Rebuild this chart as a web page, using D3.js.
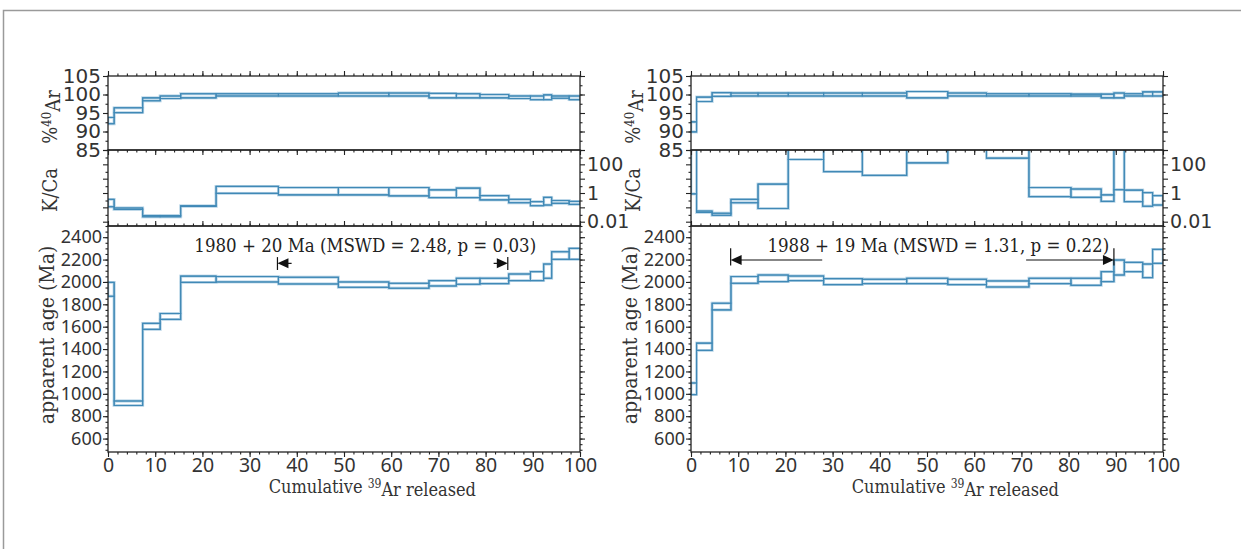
<!DOCTYPE html>
<html>
<head>
<meta charset="utf-8">
<script src="https://cdn.jsdelivr.net/npm/d3@7/dist/d3.min.js"></script>
<style>
body { margin: 0; background: #fff; }
svg { display: block; }
</style>
</head>
<body>
<svg id="chart" width="1241" height="549"></svg>
<script>
// left sample: step boundaries (cumulative % 39Ar) and the values of each step
var stepsL = [0, 1.3, 7.35, 11.05, 15.4, 22.9, 36.1, 48.8, 59.5, 68.0, 73.8, 78.8, 84.9, 89.5, 92.3, 94.0, 97.7, 100];
var ageLoL = [1872, 896, 1576, 1665, 1996, 2000, 1982, 1952, 1944, 1964, 1979, 1985, 2012, 2012, 2033, 2202, 2202];
var ageHiL = [1996, 936, 1630, 1718, 2052, 2048, 2042, 2000, 1988, 2012, 2033, 2033, 2071, 2092, 2160, 2270, 2300];
var arLoL  = [92.1, 95.1, 98.3, 98.9, 99.1, 99.6, 99.6, 99.6, 99.6, 99.1, 99.1, 99.1, 98.9, 98.6, 98.6, 99.0, 98.6];
var arHiL  = [93.8, 96.4, 99.1, 99.6, 100.2, 100.2, 100.2, 100.4, 100.4, 100.3, 100.2, 100.0, 99.6, 99.6, 99.9, 99.6, 99.6];
var kcaLoL = [0.11, 0.071, 0.022, 0.022, 0.117, 0.95, 0.74, 0.74, 0.63, 0.48, 0.48, 0.33, 0.21, 0.13, 0.145, 0.19, 0.16];
var kcaHiL = [0.36, 0.09, 0.027, 0.027, 0.128, 2.9, 2.4, 2.4, 2.4, 1.66, 2.2, 0.66, 0.36, 0.25, 0.5, 0.3, 0.26];

// right sample
var stepsR = [0, 1.18, 4.47, 8.47, 14.2, 20.6, 28.1, 36.3, 45.7, 54.4, 62.6, 71.6, 80.5, 86.9, 89.6, 91.8, 95.7, 97.8, 100];
var ageLoR = [993, 1388, 1750, 1988, 2003, 2012, 1976, 1985, 1985, 1976, 1955, 1985, 1970, 2003, 2062, 2092, 2039, 2166];
var ageHiR = [1097, 1453, 1810, 2048, 2062, 2053, 2030, 2024, 2033, 2024, 2009, 2033, 2033, 2092, 2196, 2175, 2160, 2291];
var arLoR  = [89.9, 98.1, 99.5, 99.6, 99.6, 99.6, 99.6, 99.6, 99.1, 99.6, 99.6, 99.6, 99.6, 99.1, 99.1, 99.6, 99.6, 99.6];
var arHiR  = [92.6, 99.3, 100.5, 100.4, 100.4, 100.4, 100.4, 100.4, 100.8, 100.4, 100.2, 100.2, 100.1, 100.1, 100.4, 100.2, 100.7, 100.7];
var kcaLoR = [0.87, 0.044, 0.028, 0.21, 0.083, 219, 31, 17, 127, 1500, 270, 0.56, 0.5, 0.26, 1.7, 0.25, 0.12, 0.145];
var kcaHiR = [3000, 0.055, 0.039, 0.36, 4.2, 2000, 1100, 2000, 2000, 5000, 2000, 2.4, 1.9, 0.74, 2000, 1.6, 1.07, 0.66];

// plateau annotations
var plateauTextL = "1980 + 20 Ma (MSWD = 2.48, p = 0.03)";
var plateauBarsL = [35.9, 84.7];
var plateauTailsL = [38.9, 81.7];
var plateauBarAgeL = [2107, 2222];
var plateauArrowAgeL = 2166;
var plateauTextXL = 54.5;

var plateauTextR = "1988 + 19 Ma (MSWD = 1.31, p = 0.22)";
var plateauBarsR = [8.4, 89.6];
var plateauTailsR = [27.8, 71.0];
var plateauBarAgeR = [2148, 2302];
var plateauArrowAgeR = 2196;
var plateauTextXR = 52.4;

var xTicks = d3.range(0, 101, 10);
var xMinor = d3.range(0, 101, 2);
var arTicks = [85, 90, 95, 100, 105];
var arMinor = d3.range(85, 105.1, 2.5);
var kcaTicks = [0.01, 0.1, 1, 10, 100, 1000];
var kcaLabels = [0.01, 1, 100];
var kcaMinor = [0.03, 0.3, 3, 30, 300];
var ageTicks = d3.range(600, 2401, 200);
var ageMinor = d3.range(500, 2501, 50);

var svg = d3.select("#chart");
var pw = 472,
    arTop = 76, kTop = 150, ageTop = 226, ageBot = 452;
var lineColor = "#4089b6", haloColor = "#c4dceb", axisColor = "#222";
var serif = "'DejaVu Serif Condensed', 'DejaVu Serif', serif";
var sans = "'DejaVu Sans', sans-serif";
var thin = "'Noto Sans', sans-serif";

// figure frame
svg.append("rect")
    .attr("x", 3.5).attr("y", 10.5)
    .attr("width", 1300).attr("height", 600)
    .attr("fill", "none").attr("stroke", "#9a9a9a").attr("stroke-width", 1.5);

var clipCount = 0;

var zeichneStufen = function(g, x, y, steps, lo, hi, box) {
    var id = "clip" + (clipCount++);
    svg.append("clipPath").attr("id", id).append("rect")
        .attr("x", box[0]).attr("y", box[1]).attr("width", box[2]).attr("height", box[3]);
    var rows = lo.map(function(v, i) { return {x0: steps[i], x1: steps[i + 1], lo: v, hi: hi[i]}; });
    var gs = g.append("g").attr("clip-path", "url(#" + id + ")");
    var stepLine = function(key) {
        var pts = rows.map(function(d) { return [x(d.x0), y(d[key])]; });
        pts.push([x(100), y(rows[rows.length - 1][key])]);
        return d3.line().curve(d3.curveStepAfter)(pts);
    };
    [[haloColor, 2.8], [lineColor, 1.1]].forEach(function(s) {
        gs.selectAll(null).data(rows).enter().append("rect")
            .attr("x", function(d) { return x(d.x0); })
            .attr("y", function(d) { return y(d.hi); })
            .attr("width", function(d) { return x(d.x1) - x(d.x0); })
            .attr("height", function(d) { return y(d.lo) - y(d.hi); })
            .attr("fill", "none").attr("stroke", s[0]).attr("stroke-width", s[1]);
        ["lo", "hi"].forEach(function(k) {
            gs.append("path").attr("d", stepLine(k))
                .attr("fill", "none").attr("stroke", s[0]).attr("stroke-width", s[1]);
        });
    });
};

var achse = function(axis, tx, ty, font, size) {
    var g = svg.append("g").attr("transform", "translate(" + tx + "," + ty + ")").call(axis);
    g.select(".domain").remove();
    g.selectAll("line").attr("stroke", axisColor).attr("stroke-width", 1.1);
    g.selectAll("text").attr("fill", "#333").style("font-family", font || sans).style("font-size", (size || 18) + "px");
    return g;
};

var zeichnePanel = function(p) {
    var x = d3.scaleLinear().domain([0, 100]).range([p.left, p.left + pw]);
    var yAr = d3.scaleLinear().domain([85, 105]).range([kTop, arTop]);
    var yK = d3.scaleLog().domain([0.005, 1000]).range([ageTop, kTop]);
    var yAge = d3.scaleLinear().domain([480, 2500]).range([ageBot, ageTop]);
    var right = p.left + pw;
    var g = svg.append("g");

    zeichneStufen(g, x, yAr, p.steps, p.arLo, p.arHi, [p.left, arTop, pw, kTop - arTop]);
    zeichneStufen(g, x, yK, p.steps, p.kLo, p.kHi, [p.left, kTop, pw, ageTop - kTop]);
    zeichneStufen(g, x, yAge, p.steps, p.ageLo, p.ageHi, [p.left, ageTop, pw, ageBot - ageTop]);

    // x ticks
    var none = function() { return ""; };
    [[arTop, "top"], [kTop, "bottom"], [ageTop, "top"], [ageBot, "bottom"]].forEach(function(t) {
        var mk = t[1] === "top" ? d3.axisTop : d3.axisBottom;
        achse(mk(x).tickValues(xMinor).tickSize(2.5).tickSizeOuter(0).tickFormat(none), 0, t[0]);
        var fmt = t[0] === ageBot ? d3.format("d") : none;
        achse(mk(x).tickValues(xTicks).tickSize(5).tickSizeOuter(0).tickFormat(fmt).tickPadding(1), 0, t[0], thin, 19.5);
    });

    // y ticks: %40Ar
    achse(d3.axisLeft(yAr).tickValues(arMinor).tickSize(2.5).tickSizeOuter(0).tickFormat(none), p.left, 0);
    achse(d3.axisRight(yAr).tickValues(arMinor).tickSize(2.5).tickSizeOuter(0).tickFormat(none), right, 0);
    achse(d3.axisLeft(yAr).tickValues(arTicks).tickSize(5).tickSizeOuter(0).tickFormat(d3.format("d")).tickPadding(2), p.left, 0, sans, 20);
    achse(d3.axisRight(yAr).tickValues(arTicks).tickSize(5).tickSizeOuter(0).tickFormat(none), right, 0);

    // y ticks: K/Ca (labels on the right)
    achse(d3.axisLeft(yK).tickValues(kcaMinor).tickSize(2.5).tickSizeOuter(0).tickFormat(none), p.left, 0);
    achse(d3.axisRight(yK).tickValues(kcaMinor).tickSize(2.5).tickSizeOuter(0).tickFormat(none), right, 0);
    achse(d3.axisLeft(yK).tickValues(kcaTicks).tickSize(5).tickSizeOuter(0).tickFormat(none), p.left, 0);
    achse(d3.axisRight(yK).tickValues(kcaTicks).tickSize(5).tickSizeOuter(0).tickPadding(2)
        .tickFormat(function(v) { return kcaLabels.indexOf(v) >= 0 ? String(v) : ""; }), right, 0, sans, 19);

    // y ticks: age
    achse(d3.axisLeft(yAge).tickValues(ageMinor).tickSize(2.5).tickSizeOuter(0).tickFormat(none), p.left, 0);
    achse(d3.axisRight(yAge).tickValues(ageMinor).tickSize(2.5).tickSizeOuter(0).tickFormat(none), right, 0);
    achse(d3.axisLeft(yAge).tickValues(ageTicks).tickSize(5).tickSizeOuter(0).tickFormat(d3.format("d")).tickPadding(1), p.left, 0, thin, 18);
    achse(d3.axisRight(yAge).tickValues(ageTicks).tickSize(5).tickSizeOuter(0).tickFormat(none), right, 0);

    // panel frames
    [[arTop, kTop], [kTop, ageTop], [ageTop, ageBot]].forEach(function(r) {
        svg.append("rect").attr("x", p.left).attr("y", r[0]).attr("width", pw).attr("height", r[1] - r[0])
            .attr("fill", "none").attr("stroke", axisColor).attr("stroke-width", 1.3);
    });

    // axis labels
    var lx = p.left - 58;
    var t1 = svg.append("text").attr("transform", "translate(" + lx + "," + ((arTop + kTop) / 2 + 4) + ") rotate(-90)")
        .attr("text-anchor", "middle").attr("dy", "0.35em").attr("fill", "#333")
        .style("font-family", serif).style("font-size", "20px");
    t1.append("tspan").text("%");
    t1.append("tspan").attr("dy", "-0.45em").style("font-size", "13px").text("40");
    t1.append("tspan").attr("dy", "0.45em").text("Ar");
    svg.append("text").attr("transform", "translate(" + lx + "," + ((kTop + ageTop) / 2 + 2) + ") rotate(-90)")
        .attr("text-anchor", "middle").attr("dy", "0.35em").attr("fill", "#333")
        .style("font-family", serif).style("font-size", "20px").text("K/Ca");
    svg.append("text").attr("transform", "translate(" + (lx - 3) + "," + ((ageTop + ageBot) / 2 - 4) + ") rotate(-90)")
        .attr("text-anchor", "middle").attr("dy", "0.35em").attr("fill", "#333")
        .style("font-family", serif).style("font-size", "21px").text("apparent age (Ma)");
    var t2 = svg.append("text").attr("x", x(56)).attr("y", ageBot + 41)
        .attr("text-anchor", "middle").attr("fill", "#333")
        .style("font-family", serif).style("font-size", "18px");
    t2.append("tspan").text("Cumulative ");
    t2.append("tspan").attr("dy", "-0.45em").style("font-size", "12px").text("39");
    t2.append("tspan").attr("dy", "0.45em").text("Ar released");

    // plateau annotation
    svg.append("text").attr("x", x(p.textX)).attr("y", yAge(2329)).attr("dy", "0.35em")
        .attr("text-anchor", "middle").attr("fill", "#222")
        .style("font-family", serif).style("font-size", "18.5px").text(p.text);
    var ay = yAge(p.arrowAge);
    p.bars.forEach(function(b, i) {
        svg.append("line").attr("x1", x(b)).attr("x2", x(b))
            .attr("y1", yAge(p.barAge[0])).attr("y2", yAge(p.barAge[1]))
            .attr("stroke", "#111").attr("stroke-width", 1.2);
        var dir = i === 0 ? 1 : -1;
        svg.append("line").attr("x1", x(b) + dir * 6).attr("x2", x(p.tails[i]))
            .attr("y1", ay).attr("y2", ay).attr("stroke", "#111").attr("stroke-width", 1.2);
        svg.append("path")
            .attr("d", "M" + x(b) + "," + ay + "L" + (x(b) + dir * 11) + "," + (ay - 5) +
                "L" + (x(b) + dir * 11) + "," + (ay + 5) + "Z")
            .attr("fill", "#111");
    });
};

zeichnePanel({left: 108, steps: stepsL, ageLo: ageLoL, ageHi: ageHiL, arLo: arLoL, arHi: arHiL,
    kLo: kcaLoL, kHi: kcaHiL, text: plateauTextL, textX: plateauTextXL, bars: plateauBarsL,
    tails: plateauTailsL, barAge: plateauBarAgeL, arrowAge: plateauArrowAgeL});
zeichnePanel({left: 691, steps: stepsR, ageLo: ageLoR, ageHi: ageHiR, arLo: arLoR, arHi: arHiR,
    kLo: kcaLoR, kHi: kcaHiR, text: plateauTextR, textX: plateauTextXR, bars: plateauBarsR,
    tails: plateauTailsR, barAge: plateauBarAgeR, arrowAge: plateauArrowAgeR});
</script>
</body>
</html>
